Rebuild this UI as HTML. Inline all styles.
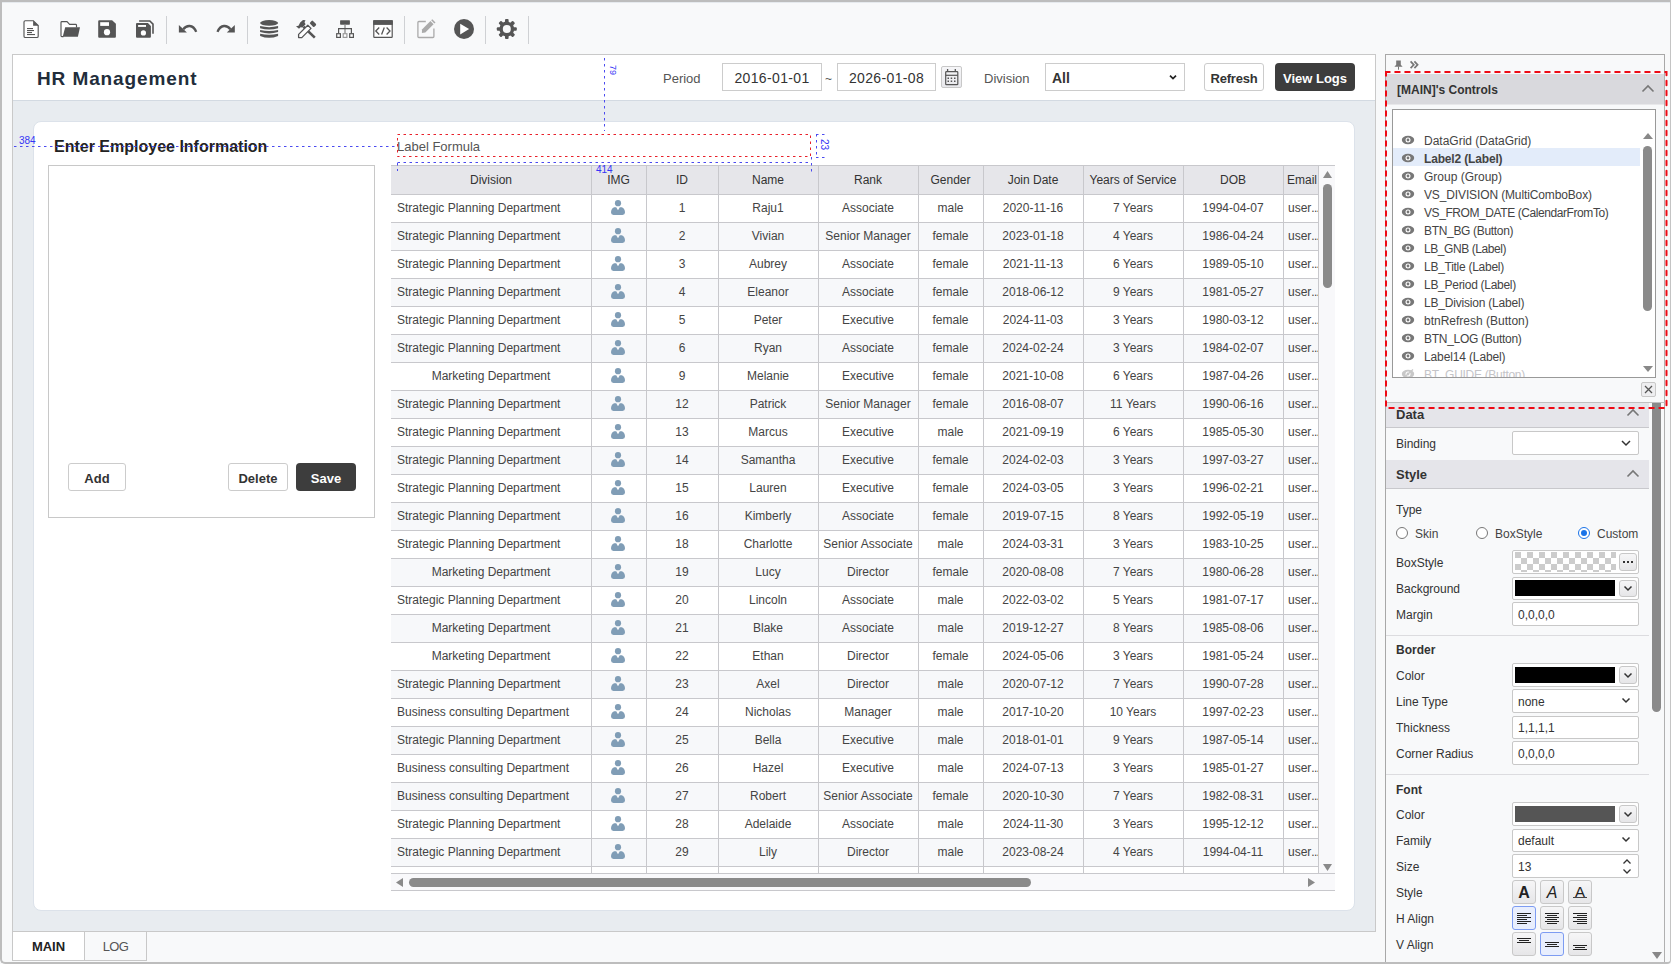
<!DOCTYPE html>
<html><head><meta charset="utf-8">
<style>
*{box-sizing:border-box}
svg{display:block}
html,body{margin:0;padding:0}
body{width:1671px;height:964px;overflow:hidden;position:relative;background:#f8f9fa;font-family:"Liberation Sans",sans-serif;color:#333}
.a{position:absolute}
.gh{position:absolute;height:28px;line-height:28px;font-size:12px;color:#333;text-align:center;white-space:nowrap;overflow:hidden}
.gc{position:absolute;height:27px;line-height:27px;font-size:12px;color:#444;text-align:center;white-space:nowrap;overflow:hidden}
.ct{position:absolute;left:1424px;height:18px;line-height:18px;font-size:12px;white-space:nowrap}
.lbl{position:absolute;left:1396px;font-size:12px;color:#333;line-height:14px;white-space:nowrap}
.fld{position:absolute;left:1512px;width:127px;height:23px;border:1px solid #c8c8c8;background:#fff;border-radius:2px}
.btn{position:absolute;border:1px solid #ccc;border-radius:3px;background:#fff;font-weight:bold;font-size:13px;color:#333;text-align:center}
.sq{position:absolute;width:24px;height:24px;border:1px solid #c8c8c8;border-radius:3px;background:linear-gradient(#f6f6f7,#e6e6e8)}
</style></head><body>
<!-- frame -->
<div class="a" style="left:0;top:0;width:1671px;height:2px;background:#bdbdbd"></div>
<div class="a" style="left:0;top:2px;width:1671px;height:1px;background:#e6eaee"></div>



<div class="a" style="left:1px;top:58px;width:1px;height:46px;background:#333"></div>

<!-- toolbar -->
<svg class="a" style="left:0;top:0" width="540" height="54">
 <path d="M24 22 q0 -1.3 1.3 -1.3 h8 l4.9 4.9 v10.6 q0 1.3 -1.3 1.3 h-11.6 q-1.3 0 -1.3 -1.3z" fill="#fff" stroke="#555" stroke-width="1.15"/>
 <path d="M33.1 20.4 l5.4 5.4 h-5.4z" fill="#555"/>
 <g fill="#555"><rect x="27" y="28" width="6" height="1.1"/><rect x="27" y="30" width="7" height="1.1"/><rect x="27" y="32" width="5" height="1.1"/><rect x="27" y="34" width="8" height="1.1"/></g>
 <!-- folder -->
 <path d="M63.5 36.6 h-1.6 q-0.9 0 -0.9 -0.9 v-13.1 q0 -0.9 0.9 -0.9 h5.1 l2.6 2.7 h6 q0.9 0 0.9 0.9 v2.2" fill="#fff" stroke="#555" stroke-width="1.15"/>
 <path d="M65.2 27.3 h14.8 l-2.1 9.4 h-15.2z" fill="#555"/>
 <!-- save -->
 <path d="M99.2 20.2 h12.9 l3.8 3.6 v13 q0 1 -1 1 h-15.7 q-1 0 -1 -1 v-15.6 q0 -1 1 -1z" fill="#555"/>
 <rect x="100.2" y="22.2" width="8.8" height="3.7" fill="#fff"/>
 <circle cx="107" cy="32.2" r="3.1" fill="#fff"/>
 <!-- save all -->
 <path d="M139.1 20.2 h11.1 l3.6 3.6 v9.9 h-1.6 v-9.2 l-2.7 -2.7 h-10.4z" fill="#555"/>
 <path d="M137 23.1 h10.9 l3 3 v10.7 q0 1 -1 1 h-12.9 q-1 0 -1 -1 v-12.7 q0 -1 1 -1z" fill="#555"/>
 <rect x="138.1" y="25" width="7.9" height="1.9" fill="#fff"/>
 <circle cx="143.4" cy="32.9" r="2.6" fill="#fff"/>
 <line x1="166.5" y1="16" x2="166.5" y2="44" stroke="#cfd1d4" stroke-width="1"/>
 <!-- undo -->
 <path d="M178.9 24.9 v7.7 h8z" fill="#555"/>
 <path d="M183.3 29.2 C186.5 25 193 24 196.2 31.9" fill="none" stroke="#555" stroke-width="2.3"/>
 <!-- redo -->
 <path d="M234.8 24.9 v7.7 h-8z" fill="#555"/>
 <path d="M230.4 29.2 C227.2 25 220.7 24 217.5 31.9" fill="none" stroke="#555" stroke-width="2.3"/>
 <line x1="247.5" y1="16" x2="247.5" y2="44" stroke="#cfd1d4" stroke-width="1"/>
 <!-- database -->
 <ellipse cx="269.1" cy="22.9" rx="9" ry="2.8" fill="#555"/>
 <path d="M260.1 26.1 Q269.1 28.3 278.1 26.1 V28.3 Q269.1 30.9 260.1 28.3Z" fill="#555"/>
 <path d="M260.1 29.9 Q269.1 32.1 278.1 29.9 V32.1 Q269.1 34.7 260.1 32.1Z" fill="#555"/>
 <path d="M260.1 33.7 Q269.1 35.9 278.1 33.7 V35.9 Q269.1 39.7 260.1 35.9Z" fill="#555"/>
 <!-- tools -->
 <path d="M303.5 26.8 L314.8 37.6" stroke="#555" stroke-width="2.6"/>
 <path d="M296 26.2 L298.5 25.8 L300.2 22.6 L303 20.1 L305.5 20.3 L304.5 22.3 L305.6 24.2 L302.5 27.4 L300.6 27.2 L299 28.8z" fill="#555"/>
 <path d="M298.6 37.5 V34.4 L307.8 25.2 L311 28.4 L301.8 37.6Z" fill="#fff" stroke="#555" stroke-width="1.3" stroke-linejoin="round"/>
 <rect x="311" y="20.8" width="4" height="6" rx="1" transform="rotate(-45 313 23.8)" fill="#555"/>
 <!-- hierarchy -->
 <rect x="340.1" y="20.2" width="9.8" height="4.5" rx="0.6" fill="#555"/>
 <path d="M345 24.7 V33.2" stroke="#a0a0a0" stroke-width="1.6"/>
 <path d="M338.6 33.2 V28.6 H351.4 V33.2" fill="none" stroke="#555" stroke-width="1.2"/>
 <rect x="336.7" y="33.7" width="3.7" height="3.7" fill="#fff" stroke="#555" stroke-width="1.2"/>
 <rect x="343.2" y="33.7" width="3.7" height="3.7" fill="#fff" stroke="#999" stroke-width="1.2"/>
 <rect x="349.7" y="33.7" width="3.7" height="3.7" fill="#fff" stroke="#555" stroke-width="1.2"/>
 <!-- code window -->
 <rect x="373.8" y="20.8" width="18.4" height="16.5" rx="0.6" fill="#fff" stroke="#555" stroke-width="1.2"/>
 <rect x="373.2" y="20.2" width="19.6" height="4.7" fill="#555"/>
 <path d="M379.2 27.5 L375.8 31 L379.2 34.5 M386.6 27.5 L390 31 L386.6 34.5 M384.3 27.4 L381.6 34.6" fill="none" stroke="#555" stroke-width="1.3"/>
 <line x1="404.5" y1="16" x2="404.5" y2="44" stroke="#cfd1d4" stroke-width="1"/>
 <!-- edit (disabled) -->
 <path d="M425.8 21.5 h-6.9 q-1 0 -1 1 v14 q0 1 1 1 h14 q1 0 1 -1 v-7.9" fill="none" stroke="#aaa" stroke-width="1.3"/>
 <path d="M421.9 32.9 L422 29.4 L430.4 21 L433.6 24.2 L425.3 32.6z" fill="#aaa"/>
 <path d="M431.2 20.3 L432.3 19.2 L435.5 22.4 L434.4 23.5z" fill="#aaa"/>
 <!-- play -->
 <circle cx="464" cy="29" r="10" fill="#555"/>
 <path d="M460.2 23.8 v10.6 l8.9 -5.3z" fill="#fff"/>
 <line x1="485.5" y1="16" x2="485.5" y2="44" stroke="#cfd1d4" stroke-width="1"/>
 <!-- gear -->
 <g transform="translate(506.8 29)" fill="#555">
  <circle r="7.4"/>
  <rect x="-1.8" y="-10" width="3.6" height="20" rx="1"/>
  <rect x="-1.8" y="-10" width="3.6" height="20" rx="1" transform="rotate(45)"/>
  <rect x="-1.8" y="-10" width="3.6" height="20" rx="1" transform="rotate(90)"/>
  <rect x="-1.8" y="-10" width="3.6" height="20" rx="1" transform="rotate(135)"/>
  <circle r="4" fill="#f8f9fa"/>
 </g>
 <line x1="528.5" y1="16" x2="528.5" y2="44" stroke="#cfd1d4" stroke-width="1"/>
</svg>

<!-- design area -->
<div class="a" style="left:12px;top:54px;width:1364px;height:878px;border:1px solid #c9c9c9;background:#e8ecf0"></div>
<div class="a" style="left:13px;top:55px;width:1362px;height:46px;background:#fff;border-bottom:1px solid #d3dae2"></div>
<div class="a" style="left:37px;top:67px;font-size:19px;font-weight:bold;color:#222d3b;letter-spacing:0.9px;line-height:24px">HR Management</div>
<div class="a" style="left:663px;top:71px;font-size:13px;color:#555;line-height:16px">Period</div>
<div class="a" style="left:722px;top:63px;width:100px;height:28px;border:1px solid #ccc;background:#fff;font-size:14px;color:#333;text-align:center;line-height:28px;letter-spacing:0.35px">2016-01-01</div>
<div class="a" style="left:825px;top:71px;font-size:12px;color:#555;line-height:16px">~</div>
<div class="a" style="left:837px;top:63px;width:99px;height:28px;border:1px solid #ccc;background:#fff;font-size:14px;color:#333;text-align:center;line-height:28px;letter-spacing:0.35px">2026-01-08</div>
<div class="a" style="left:941px;top:66px;width:21px;height:22px;border:1px solid #c8c8c8;border-radius:2px;background:linear-gradient(#f6f6f8,#e8e8ec)"></div>
<svg class="a" style="left:936px;top:60px" width="34" height="34">
 <rect x="9.7" y="11.7" width="12.1" height="13" rx="0.8" fill="none" stroke="#555" stroke-width="1.2"/>
 <path d="M9.7 15.3 H21.8" stroke="#555" stroke-width="1.2"/>
 <path d="M11.6 9 V12 M19.3 9 V12" stroke="#555" stroke-width="1.3"/>
 <g fill="#555"><rect x="11.5" y="17.5" width="1.5" height="1.5"/><rect x="14.7" y="17.5" width="1.5" height="1.5"/><rect x="18" y="17.5" width="1.5" height="1.5"/><rect x="11.5" y="20.5" width="1.5" height="1.5"/><rect x="14.7" y="20.5" width="1.5" height="1.5"/><rect x="18" y="20.5" width="1.5" height="1.5"/></g>
</svg>
<div class="a" style="left:984px;top:71px;font-size:13px;color:#555;line-height:16px">Division</div>
<div class="a" style="left:1045px;top:63px;width:140px;height:28px;border:1px solid #ccc;background:#fff"></div>
<div class="a" style="left:1052px;top:70px;font-size:14px;font-weight:bold;color:#333;line-height:16px">All</div>
<svg class="a" style="left:1168px;top:74px" width="10" height="7"><path d="M2 1.6 l3 3 l3 -3" fill="none" stroke="#222" stroke-width="1.7"/></svg>
<div class="btn" style="left:1204px;top:63px;width:60px;height:28px;line-height:29px;letter-spacing:-0.2px">Refresh</div>
<div class="btn" style="left:1275px;top:63px;width:80px;height:28px;line-height:31px;border:none;background:#3d3d3d;color:#fff;border-radius:4px">View Logs</div>

<!-- card -->
<div class="a" style="left:33px;top:121px;width:1322px;height:790px;background:#fff;border:1px solid #dce2ea;border-radius:8px"></div>
<div class="a" style="left:54px;top:138px;font-size:16px;font-weight:bold;color:#222;line-height:18px">Enter Employee Information</div>
<div class="a" style="left:48px;top:165px;width:327px;height:353px;border:1px solid #c8c8c8;background:#fff"></div>
<div class="btn" style="left:68px;top:463px;width:58px;height:28px;line-height:29px">Add</div>
<div class="btn" style="left:228px;top:463px;width:60px;height:28px;line-height:29px">Delete</div>
<div class="btn" style="left:296px;top:463px;width:60px;height:28px;line-height:31px;border:none;background:#3d3d3d;color:#fff;border-radius:4px">Save</div>

<!-- label formula -->
<div class="a" style="left:397px;top:139px;font-size:13px;color:#555;line-height:16px">Label Formula</div>

<div style="position:absolute;left:391px;top:165px;width:944px;height:1px;background:#c8c8cc"></div>
<div style="position:absolute;left:391px;top:166px;width:927px;height:28px;background:#e6e6ea"></div>
<div class="gh" style="left:391px;top:166px;width:200px">Division</div>
<div class="gh" style="left:591px;top:166px;width:55px">IMG</div>
<div class="gh" style="left:646px;top:166px;width:72px">ID</div>
<div class="gh" style="left:718px;top:166px;width:100px">Name</div>
<div class="gh" style="left:818px;top:166px;width:100px">Rank</div>
<div class="gh" style="left:918px;top:166px;width:65px">Gender</div>
<div class="gh" style="left:983px;top:166px;width:100px">Join Date</div>
<div class="gh" style="left:1083px;top:166px;width:100px">Years of Service</div>
<div class="gh" style="left:1183px;top:166px;width:100px">DOB</div>
<div class="gh" style="left:1284px;top:166px;width:34px;text-align:left;padding-left:3px">Email</div>
<div style="position:absolute;left:391px;top:195px;width:927px;height:27px;background:#ffffff"></div>
<div class="gc" style="left:397px;top:195px;width:194px;text-align:left">Strategic Planning Department</div>
<div style="position:absolute;left:611px;top:200px;width:14px;height:15px"><svg width="14" height="15" viewBox="0 0 14 15"><circle cx="7" cy="3.2" r="3.1" fill="#809db6"/><path d="M3.2 7.2 L5.2 7.2 L7 10.2 L8.8 7.2 L10.8 7.2 Q14 8.6 14 12.6 Q14 15 11.5 15 L2.5 15 Q0 15 0 12.6 Q0 8.6 3.2 7.2Z" fill="#809db6"/></svg></div>
<div class="gc" style="left:646px;top:195px;width:72px">1</div>
<div class="gc" style="left:718px;top:195px;width:100px">Raju1</div>
<div class="gc" style="left:818px;top:195px;width:100px">Associate</div>
<div class="gc" style="left:918px;top:195px;width:65px">male</div>
<div class="gc" style="left:983px;top:195px;width:100px">2020-11-16</div>
<div class="gc" style="left:1083px;top:195px;width:100px">7 Years</div>
<div class="gc" style="left:1183px;top:195px;width:100px">1994-04-07</div>
<div class="gc" style="left:1288px;top:195px;width:30px;text-align:left">user<span style="letter-spacing:-0.8px">...</span></div>
<div style="position:absolute;left:391px;top:223px;width:927px;height:27px;background:#f7f8fa"></div>
<div class="gc" style="left:397px;top:223px;width:194px;text-align:left">Strategic Planning Department</div>
<div style="position:absolute;left:611px;top:228px;width:14px;height:15px"><svg width="14" height="15" viewBox="0 0 14 15"><circle cx="7" cy="3.2" r="3.1" fill="#809db6"/><path d="M3.2 7.2 L5.2 7.2 L7 10.2 L8.8 7.2 L10.8 7.2 Q14 8.6 14 12.6 Q14 15 11.5 15 L2.5 15 Q0 15 0 12.6 Q0 8.6 3.2 7.2Z" fill="#809db6"/></svg></div>
<div class="gc" style="left:646px;top:223px;width:72px">2</div>
<div class="gc" style="left:718px;top:223px;width:100px">Vivian</div>
<div class="gc" style="left:818px;top:223px;width:100px">Senior Manager</div>
<div class="gc" style="left:918px;top:223px;width:65px">female</div>
<div class="gc" style="left:983px;top:223px;width:100px">2023-01-18</div>
<div class="gc" style="left:1083px;top:223px;width:100px">4 Years</div>
<div class="gc" style="left:1183px;top:223px;width:100px">1986-04-24</div>
<div class="gc" style="left:1288px;top:223px;width:30px;text-align:left">user<span style="letter-spacing:-0.8px">...</span></div>
<div style="position:absolute;left:391px;top:251px;width:927px;height:27px;background:#ffffff"></div>
<div class="gc" style="left:397px;top:251px;width:194px;text-align:left">Strategic Planning Department</div>
<div style="position:absolute;left:611px;top:256px;width:14px;height:15px"><svg width="14" height="15" viewBox="0 0 14 15"><circle cx="7" cy="3.2" r="3.1" fill="#809db6"/><path d="M3.2 7.2 L5.2 7.2 L7 10.2 L8.8 7.2 L10.8 7.2 Q14 8.6 14 12.6 Q14 15 11.5 15 L2.5 15 Q0 15 0 12.6 Q0 8.6 3.2 7.2Z" fill="#809db6"/></svg></div>
<div class="gc" style="left:646px;top:251px;width:72px">3</div>
<div class="gc" style="left:718px;top:251px;width:100px">Aubrey</div>
<div class="gc" style="left:818px;top:251px;width:100px">Associate</div>
<div class="gc" style="left:918px;top:251px;width:65px">female</div>
<div class="gc" style="left:983px;top:251px;width:100px">2021-11-13</div>
<div class="gc" style="left:1083px;top:251px;width:100px">6 Years</div>
<div class="gc" style="left:1183px;top:251px;width:100px">1989-05-10</div>
<div class="gc" style="left:1288px;top:251px;width:30px;text-align:left">user<span style="letter-spacing:-0.8px">...</span></div>
<div style="position:absolute;left:391px;top:279px;width:927px;height:27px;background:#f7f8fa"></div>
<div class="gc" style="left:397px;top:279px;width:194px;text-align:left">Strategic Planning Department</div>
<div style="position:absolute;left:611px;top:284px;width:14px;height:15px"><svg width="14" height="15" viewBox="0 0 14 15"><circle cx="7" cy="3.2" r="3.1" fill="#809db6"/><path d="M3.2 7.2 L5.2 7.2 L7 10.2 L8.8 7.2 L10.8 7.2 Q14 8.6 14 12.6 Q14 15 11.5 15 L2.5 15 Q0 15 0 12.6 Q0 8.6 3.2 7.2Z" fill="#809db6"/></svg></div>
<div class="gc" style="left:646px;top:279px;width:72px">4</div>
<div class="gc" style="left:718px;top:279px;width:100px">Eleanor</div>
<div class="gc" style="left:818px;top:279px;width:100px">Associate</div>
<div class="gc" style="left:918px;top:279px;width:65px">female</div>
<div class="gc" style="left:983px;top:279px;width:100px">2018-06-12</div>
<div class="gc" style="left:1083px;top:279px;width:100px">9 Years</div>
<div class="gc" style="left:1183px;top:279px;width:100px">1981-05-27</div>
<div class="gc" style="left:1288px;top:279px;width:30px;text-align:left">user<span style="letter-spacing:-0.8px">...</span></div>
<div style="position:absolute;left:391px;top:307px;width:927px;height:27px;background:#ffffff"></div>
<div class="gc" style="left:397px;top:307px;width:194px;text-align:left">Strategic Planning Department</div>
<div style="position:absolute;left:611px;top:312px;width:14px;height:15px"><svg width="14" height="15" viewBox="0 0 14 15"><circle cx="7" cy="3.2" r="3.1" fill="#809db6"/><path d="M3.2 7.2 L5.2 7.2 L7 10.2 L8.8 7.2 L10.8 7.2 Q14 8.6 14 12.6 Q14 15 11.5 15 L2.5 15 Q0 15 0 12.6 Q0 8.6 3.2 7.2Z" fill="#809db6"/></svg></div>
<div class="gc" style="left:646px;top:307px;width:72px">5</div>
<div class="gc" style="left:718px;top:307px;width:100px">Peter</div>
<div class="gc" style="left:818px;top:307px;width:100px">Executive</div>
<div class="gc" style="left:918px;top:307px;width:65px">female</div>
<div class="gc" style="left:983px;top:307px;width:100px">2024-11-03</div>
<div class="gc" style="left:1083px;top:307px;width:100px">3 Years</div>
<div class="gc" style="left:1183px;top:307px;width:100px">1980-03-12</div>
<div class="gc" style="left:1288px;top:307px;width:30px;text-align:left">user<span style="letter-spacing:-0.8px">...</span></div>
<div style="position:absolute;left:391px;top:335px;width:927px;height:27px;background:#f7f8fa"></div>
<div class="gc" style="left:397px;top:335px;width:194px;text-align:left">Strategic Planning Department</div>
<div style="position:absolute;left:611px;top:340px;width:14px;height:15px"><svg width="14" height="15" viewBox="0 0 14 15"><circle cx="7" cy="3.2" r="3.1" fill="#809db6"/><path d="M3.2 7.2 L5.2 7.2 L7 10.2 L8.8 7.2 L10.8 7.2 Q14 8.6 14 12.6 Q14 15 11.5 15 L2.5 15 Q0 15 0 12.6 Q0 8.6 3.2 7.2Z" fill="#809db6"/></svg></div>
<div class="gc" style="left:646px;top:335px;width:72px">6</div>
<div class="gc" style="left:718px;top:335px;width:100px">Ryan</div>
<div class="gc" style="left:818px;top:335px;width:100px">Associate</div>
<div class="gc" style="left:918px;top:335px;width:65px">female</div>
<div class="gc" style="left:983px;top:335px;width:100px">2024-02-24</div>
<div class="gc" style="left:1083px;top:335px;width:100px">3 Years</div>
<div class="gc" style="left:1183px;top:335px;width:100px">1984-02-07</div>
<div class="gc" style="left:1288px;top:335px;width:30px;text-align:left">user<span style="letter-spacing:-0.8px">...</span></div>
<div style="position:absolute;left:391px;top:363px;width:927px;height:27px;background:#ffffff"></div>
<div class="gc" style="left:391px;top:363px;width:200px">Marketing Department</div>
<div style="position:absolute;left:611px;top:368px;width:14px;height:15px"><svg width="14" height="15" viewBox="0 0 14 15"><circle cx="7" cy="3.2" r="3.1" fill="#809db6"/><path d="M3.2 7.2 L5.2 7.2 L7 10.2 L8.8 7.2 L10.8 7.2 Q14 8.6 14 12.6 Q14 15 11.5 15 L2.5 15 Q0 15 0 12.6 Q0 8.6 3.2 7.2Z" fill="#809db6"/></svg></div>
<div class="gc" style="left:646px;top:363px;width:72px">9</div>
<div class="gc" style="left:718px;top:363px;width:100px">Melanie</div>
<div class="gc" style="left:818px;top:363px;width:100px">Executive</div>
<div class="gc" style="left:918px;top:363px;width:65px">female</div>
<div class="gc" style="left:983px;top:363px;width:100px">2021-10-08</div>
<div class="gc" style="left:1083px;top:363px;width:100px">6 Years</div>
<div class="gc" style="left:1183px;top:363px;width:100px">1987-04-26</div>
<div class="gc" style="left:1288px;top:363px;width:30px;text-align:left">user<span style="letter-spacing:-0.8px">...</span></div>
<div style="position:absolute;left:391px;top:391px;width:927px;height:27px;background:#f7f8fa"></div>
<div class="gc" style="left:397px;top:391px;width:194px;text-align:left">Strategic Planning Department</div>
<div style="position:absolute;left:611px;top:396px;width:14px;height:15px"><svg width="14" height="15" viewBox="0 0 14 15"><circle cx="7" cy="3.2" r="3.1" fill="#809db6"/><path d="M3.2 7.2 L5.2 7.2 L7 10.2 L8.8 7.2 L10.8 7.2 Q14 8.6 14 12.6 Q14 15 11.5 15 L2.5 15 Q0 15 0 12.6 Q0 8.6 3.2 7.2Z" fill="#809db6"/></svg></div>
<div class="gc" style="left:646px;top:391px;width:72px">12</div>
<div class="gc" style="left:718px;top:391px;width:100px">Patrick</div>
<div class="gc" style="left:818px;top:391px;width:100px">Senior Manager</div>
<div class="gc" style="left:918px;top:391px;width:65px">female</div>
<div class="gc" style="left:983px;top:391px;width:100px">2016-08-07</div>
<div class="gc" style="left:1083px;top:391px;width:100px">11 Years</div>
<div class="gc" style="left:1183px;top:391px;width:100px">1990-06-16</div>
<div class="gc" style="left:1288px;top:391px;width:30px;text-align:left">user<span style="letter-spacing:-0.8px">...</span></div>
<div style="position:absolute;left:391px;top:419px;width:927px;height:27px;background:#ffffff"></div>
<div class="gc" style="left:397px;top:419px;width:194px;text-align:left">Strategic Planning Department</div>
<div style="position:absolute;left:611px;top:424px;width:14px;height:15px"><svg width="14" height="15" viewBox="0 0 14 15"><circle cx="7" cy="3.2" r="3.1" fill="#809db6"/><path d="M3.2 7.2 L5.2 7.2 L7 10.2 L8.8 7.2 L10.8 7.2 Q14 8.6 14 12.6 Q14 15 11.5 15 L2.5 15 Q0 15 0 12.6 Q0 8.6 3.2 7.2Z" fill="#809db6"/></svg></div>
<div class="gc" style="left:646px;top:419px;width:72px">13</div>
<div class="gc" style="left:718px;top:419px;width:100px">Marcus</div>
<div class="gc" style="left:818px;top:419px;width:100px">Executive</div>
<div class="gc" style="left:918px;top:419px;width:65px">male</div>
<div class="gc" style="left:983px;top:419px;width:100px">2021-09-19</div>
<div class="gc" style="left:1083px;top:419px;width:100px">6 Years</div>
<div class="gc" style="left:1183px;top:419px;width:100px">1985-05-30</div>
<div class="gc" style="left:1288px;top:419px;width:30px;text-align:left">user<span style="letter-spacing:-0.8px">...</span></div>
<div style="position:absolute;left:391px;top:447px;width:927px;height:27px;background:#f7f8fa"></div>
<div class="gc" style="left:397px;top:447px;width:194px;text-align:left">Strategic Planning Department</div>
<div style="position:absolute;left:611px;top:452px;width:14px;height:15px"><svg width="14" height="15" viewBox="0 0 14 15"><circle cx="7" cy="3.2" r="3.1" fill="#809db6"/><path d="M3.2 7.2 L5.2 7.2 L7 10.2 L8.8 7.2 L10.8 7.2 Q14 8.6 14 12.6 Q14 15 11.5 15 L2.5 15 Q0 15 0 12.6 Q0 8.6 3.2 7.2Z" fill="#809db6"/></svg></div>
<div class="gc" style="left:646px;top:447px;width:72px">14</div>
<div class="gc" style="left:718px;top:447px;width:100px">Samantha</div>
<div class="gc" style="left:818px;top:447px;width:100px">Executive</div>
<div class="gc" style="left:918px;top:447px;width:65px">female</div>
<div class="gc" style="left:983px;top:447px;width:100px">2024-02-03</div>
<div class="gc" style="left:1083px;top:447px;width:100px">3 Years</div>
<div class="gc" style="left:1183px;top:447px;width:100px">1997-03-27</div>
<div class="gc" style="left:1288px;top:447px;width:30px;text-align:left">user<span style="letter-spacing:-0.8px">...</span></div>
<div style="position:absolute;left:391px;top:475px;width:927px;height:27px;background:#ffffff"></div>
<div class="gc" style="left:397px;top:475px;width:194px;text-align:left">Strategic Planning Department</div>
<div style="position:absolute;left:611px;top:480px;width:14px;height:15px"><svg width="14" height="15" viewBox="0 0 14 15"><circle cx="7" cy="3.2" r="3.1" fill="#809db6"/><path d="M3.2 7.2 L5.2 7.2 L7 10.2 L8.8 7.2 L10.8 7.2 Q14 8.6 14 12.6 Q14 15 11.5 15 L2.5 15 Q0 15 0 12.6 Q0 8.6 3.2 7.2Z" fill="#809db6"/></svg></div>
<div class="gc" style="left:646px;top:475px;width:72px">15</div>
<div class="gc" style="left:718px;top:475px;width:100px">Lauren</div>
<div class="gc" style="left:818px;top:475px;width:100px">Executive</div>
<div class="gc" style="left:918px;top:475px;width:65px">female</div>
<div class="gc" style="left:983px;top:475px;width:100px">2024-03-05</div>
<div class="gc" style="left:1083px;top:475px;width:100px">3 Years</div>
<div class="gc" style="left:1183px;top:475px;width:100px">1996-02-21</div>
<div class="gc" style="left:1288px;top:475px;width:30px;text-align:left">user<span style="letter-spacing:-0.8px">...</span></div>
<div style="position:absolute;left:391px;top:503px;width:927px;height:27px;background:#f7f8fa"></div>
<div class="gc" style="left:397px;top:503px;width:194px;text-align:left">Strategic Planning Department</div>
<div style="position:absolute;left:611px;top:508px;width:14px;height:15px"><svg width="14" height="15" viewBox="0 0 14 15"><circle cx="7" cy="3.2" r="3.1" fill="#809db6"/><path d="M3.2 7.2 L5.2 7.2 L7 10.2 L8.8 7.2 L10.8 7.2 Q14 8.6 14 12.6 Q14 15 11.5 15 L2.5 15 Q0 15 0 12.6 Q0 8.6 3.2 7.2Z" fill="#809db6"/></svg></div>
<div class="gc" style="left:646px;top:503px;width:72px">16</div>
<div class="gc" style="left:718px;top:503px;width:100px">Kimberly</div>
<div class="gc" style="left:818px;top:503px;width:100px">Associate</div>
<div class="gc" style="left:918px;top:503px;width:65px">female</div>
<div class="gc" style="left:983px;top:503px;width:100px">2019-07-15</div>
<div class="gc" style="left:1083px;top:503px;width:100px">8 Years</div>
<div class="gc" style="left:1183px;top:503px;width:100px">1992-05-19</div>
<div class="gc" style="left:1288px;top:503px;width:30px;text-align:left">user<span style="letter-spacing:-0.8px">...</span></div>
<div style="position:absolute;left:391px;top:531px;width:927px;height:27px;background:#ffffff"></div>
<div class="gc" style="left:397px;top:531px;width:194px;text-align:left">Strategic Planning Department</div>
<div style="position:absolute;left:611px;top:536px;width:14px;height:15px"><svg width="14" height="15" viewBox="0 0 14 15"><circle cx="7" cy="3.2" r="3.1" fill="#809db6"/><path d="M3.2 7.2 L5.2 7.2 L7 10.2 L8.8 7.2 L10.8 7.2 Q14 8.6 14 12.6 Q14 15 11.5 15 L2.5 15 Q0 15 0 12.6 Q0 8.6 3.2 7.2Z" fill="#809db6"/></svg></div>
<div class="gc" style="left:646px;top:531px;width:72px">18</div>
<div class="gc" style="left:718px;top:531px;width:100px">Charlotte</div>
<div class="gc" style="left:818px;top:531px;width:100px">Senior Associate</div>
<div class="gc" style="left:918px;top:531px;width:65px">male</div>
<div class="gc" style="left:983px;top:531px;width:100px">2024-03-31</div>
<div class="gc" style="left:1083px;top:531px;width:100px">3 Years</div>
<div class="gc" style="left:1183px;top:531px;width:100px">1983-10-25</div>
<div class="gc" style="left:1288px;top:531px;width:30px;text-align:left">user<span style="letter-spacing:-0.8px">...</span></div>
<div style="position:absolute;left:391px;top:559px;width:927px;height:27px;background:#f7f8fa"></div>
<div class="gc" style="left:391px;top:559px;width:200px">Marketing Department</div>
<div style="position:absolute;left:611px;top:564px;width:14px;height:15px"><svg width="14" height="15" viewBox="0 0 14 15"><circle cx="7" cy="3.2" r="3.1" fill="#809db6"/><path d="M3.2 7.2 L5.2 7.2 L7 10.2 L8.8 7.2 L10.8 7.2 Q14 8.6 14 12.6 Q14 15 11.5 15 L2.5 15 Q0 15 0 12.6 Q0 8.6 3.2 7.2Z" fill="#809db6"/></svg></div>
<div class="gc" style="left:646px;top:559px;width:72px">19</div>
<div class="gc" style="left:718px;top:559px;width:100px">Lucy</div>
<div class="gc" style="left:818px;top:559px;width:100px">Director</div>
<div class="gc" style="left:918px;top:559px;width:65px">female</div>
<div class="gc" style="left:983px;top:559px;width:100px">2020-08-08</div>
<div class="gc" style="left:1083px;top:559px;width:100px">7 Years</div>
<div class="gc" style="left:1183px;top:559px;width:100px">1980-06-28</div>
<div class="gc" style="left:1288px;top:559px;width:30px;text-align:left">user<span style="letter-spacing:-0.8px">...</span></div>
<div style="position:absolute;left:391px;top:587px;width:927px;height:27px;background:#ffffff"></div>
<div class="gc" style="left:397px;top:587px;width:194px;text-align:left">Strategic Planning Department</div>
<div style="position:absolute;left:611px;top:592px;width:14px;height:15px"><svg width="14" height="15" viewBox="0 0 14 15"><circle cx="7" cy="3.2" r="3.1" fill="#809db6"/><path d="M3.2 7.2 L5.2 7.2 L7 10.2 L8.8 7.2 L10.8 7.2 Q14 8.6 14 12.6 Q14 15 11.5 15 L2.5 15 Q0 15 0 12.6 Q0 8.6 3.2 7.2Z" fill="#809db6"/></svg></div>
<div class="gc" style="left:646px;top:587px;width:72px">20</div>
<div class="gc" style="left:718px;top:587px;width:100px">Lincoln</div>
<div class="gc" style="left:818px;top:587px;width:100px">Associate</div>
<div class="gc" style="left:918px;top:587px;width:65px">male</div>
<div class="gc" style="left:983px;top:587px;width:100px">2022-03-02</div>
<div class="gc" style="left:1083px;top:587px;width:100px">5 Years</div>
<div class="gc" style="left:1183px;top:587px;width:100px">1981-07-17</div>
<div class="gc" style="left:1288px;top:587px;width:30px;text-align:left">user<span style="letter-spacing:-0.8px">...</span></div>
<div style="position:absolute;left:391px;top:615px;width:927px;height:27px;background:#f7f8fa"></div>
<div class="gc" style="left:391px;top:615px;width:200px">Marketing Department</div>
<div style="position:absolute;left:611px;top:620px;width:14px;height:15px"><svg width="14" height="15" viewBox="0 0 14 15"><circle cx="7" cy="3.2" r="3.1" fill="#809db6"/><path d="M3.2 7.2 L5.2 7.2 L7 10.2 L8.8 7.2 L10.8 7.2 Q14 8.6 14 12.6 Q14 15 11.5 15 L2.5 15 Q0 15 0 12.6 Q0 8.6 3.2 7.2Z" fill="#809db6"/></svg></div>
<div class="gc" style="left:646px;top:615px;width:72px">21</div>
<div class="gc" style="left:718px;top:615px;width:100px">Blake</div>
<div class="gc" style="left:818px;top:615px;width:100px">Associate</div>
<div class="gc" style="left:918px;top:615px;width:65px">male</div>
<div class="gc" style="left:983px;top:615px;width:100px">2019-12-27</div>
<div class="gc" style="left:1083px;top:615px;width:100px">8 Years</div>
<div class="gc" style="left:1183px;top:615px;width:100px">1985-08-06</div>
<div class="gc" style="left:1288px;top:615px;width:30px;text-align:left">user<span style="letter-spacing:-0.8px">...</span></div>
<div style="position:absolute;left:391px;top:643px;width:927px;height:27px;background:#ffffff"></div>
<div class="gc" style="left:391px;top:643px;width:200px">Marketing Department</div>
<div style="position:absolute;left:611px;top:648px;width:14px;height:15px"><svg width="14" height="15" viewBox="0 0 14 15"><circle cx="7" cy="3.2" r="3.1" fill="#809db6"/><path d="M3.2 7.2 L5.2 7.2 L7 10.2 L8.8 7.2 L10.8 7.2 Q14 8.6 14 12.6 Q14 15 11.5 15 L2.5 15 Q0 15 0 12.6 Q0 8.6 3.2 7.2Z" fill="#809db6"/></svg></div>
<div class="gc" style="left:646px;top:643px;width:72px">22</div>
<div class="gc" style="left:718px;top:643px;width:100px">Ethan</div>
<div class="gc" style="left:818px;top:643px;width:100px">Director</div>
<div class="gc" style="left:918px;top:643px;width:65px">female</div>
<div class="gc" style="left:983px;top:643px;width:100px">2024-05-06</div>
<div class="gc" style="left:1083px;top:643px;width:100px">3 Years</div>
<div class="gc" style="left:1183px;top:643px;width:100px">1981-05-24</div>
<div class="gc" style="left:1288px;top:643px;width:30px;text-align:left">user<span style="letter-spacing:-0.8px">...</span></div>
<div style="position:absolute;left:391px;top:671px;width:927px;height:27px;background:#f7f8fa"></div>
<div class="gc" style="left:397px;top:671px;width:194px;text-align:left">Strategic Planning Department</div>
<div style="position:absolute;left:611px;top:676px;width:14px;height:15px"><svg width="14" height="15" viewBox="0 0 14 15"><circle cx="7" cy="3.2" r="3.1" fill="#809db6"/><path d="M3.2 7.2 L5.2 7.2 L7 10.2 L8.8 7.2 L10.8 7.2 Q14 8.6 14 12.6 Q14 15 11.5 15 L2.5 15 Q0 15 0 12.6 Q0 8.6 3.2 7.2Z" fill="#809db6"/></svg></div>
<div class="gc" style="left:646px;top:671px;width:72px">23</div>
<div class="gc" style="left:718px;top:671px;width:100px">Axel</div>
<div class="gc" style="left:818px;top:671px;width:100px">Director</div>
<div class="gc" style="left:918px;top:671px;width:65px">male</div>
<div class="gc" style="left:983px;top:671px;width:100px">2020-07-12</div>
<div class="gc" style="left:1083px;top:671px;width:100px">7 Years</div>
<div class="gc" style="left:1183px;top:671px;width:100px">1990-07-28</div>
<div class="gc" style="left:1288px;top:671px;width:30px;text-align:left">user<span style="letter-spacing:-0.8px">...</span></div>
<div style="position:absolute;left:391px;top:699px;width:927px;height:27px;background:#ffffff"></div>
<div class="gc" style="left:397px;top:699px;width:194px;text-align:left">Business consulting Department</div>
<div style="position:absolute;left:611px;top:704px;width:14px;height:15px"><svg width="14" height="15" viewBox="0 0 14 15"><circle cx="7" cy="3.2" r="3.1" fill="#809db6"/><path d="M3.2 7.2 L5.2 7.2 L7 10.2 L8.8 7.2 L10.8 7.2 Q14 8.6 14 12.6 Q14 15 11.5 15 L2.5 15 Q0 15 0 12.6 Q0 8.6 3.2 7.2Z" fill="#809db6"/></svg></div>
<div class="gc" style="left:646px;top:699px;width:72px">24</div>
<div class="gc" style="left:718px;top:699px;width:100px">Nicholas</div>
<div class="gc" style="left:818px;top:699px;width:100px">Manager</div>
<div class="gc" style="left:918px;top:699px;width:65px">male</div>
<div class="gc" style="left:983px;top:699px;width:100px">2017-10-20</div>
<div class="gc" style="left:1083px;top:699px;width:100px">10 Years</div>
<div class="gc" style="left:1183px;top:699px;width:100px">1997-02-23</div>
<div class="gc" style="left:1288px;top:699px;width:30px;text-align:left">user<span style="letter-spacing:-0.8px">...</span></div>
<div style="position:absolute;left:391px;top:727px;width:927px;height:27px;background:#f7f8fa"></div>
<div class="gc" style="left:397px;top:727px;width:194px;text-align:left">Strategic Planning Department</div>
<div style="position:absolute;left:611px;top:732px;width:14px;height:15px"><svg width="14" height="15" viewBox="0 0 14 15"><circle cx="7" cy="3.2" r="3.1" fill="#809db6"/><path d="M3.2 7.2 L5.2 7.2 L7 10.2 L8.8 7.2 L10.8 7.2 Q14 8.6 14 12.6 Q14 15 11.5 15 L2.5 15 Q0 15 0 12.6 Q0 8.6 3.2 7.2Z" fill="#809db6"/></svg></div>
<div class="gc" style="left:646px;top:727px;width:72px">25</div>
<div class="gc" style="left:718px;top:727px;width:100px">Bella</div>
<div class="gc" style="left:818px;top:727px;width:100px">Executive</div>
<div class="gc" style="left:918px;top:727px;width:65px">male</div>
<div class="gc" style="left:983px;top:727px;width:100px">2018-01-01</div>
<div class="gc" style="left:1083px;top:727px;width:100px">9 Years</div>
<div class="gc" style="left:1183px;top:727px;width:100px">1987-05-14</div>
<div class="gc" style="left:1288px;top:727px;width:30px;text-align:left">user<span style="letter-spacing:-0.8px">...</span></div>
<div style="position:absolute;left:391px;top:755px;width:927px;height:27px;background:#ffffff"></div>
<div class="gc" style="left:397px;top:755px;width:194px;text-align:left">Business consulting Department</div>
<div style="position:absolute;left:611px;top:760px;width:14px;height:15px"><svg width="14" height="15" viewBox="0 0 14 15"><circle cx="7" cy="3.2" r="3.1" fill="#809db6"/><path d="M3.2 7.2 L5.2 7.2 L7 10.2 L8.8 7.2 L10.8 7.2 Q14 8.6 14 12.6 Q14 15 11.5 15 L2.5 15 Q0 15 0 12.6 Q0 8.6 3.2 7.2Z" fill="#809db6"/></svg></div>
<div class="gc" style="left:646px;top:755px;width:72px">26</div>
<div class="gc" style="left:718px;top:755px;width:100px">Hazel</div>
<div class="gc" style="left:818px;top:755px;width:100px">Executive</div>
<div class="gc" style="left:918px;top:755px;width:65px">male</div>
<div class="gc" style="left:983px;top:755px;width:100px">2024-07-13</div>
<div class="gc" style="left:1083px;top:755px;width:100px">3 Years</div>
<div class="gc" style="left:1183px;top:755px;width:100px">1985-01-27</div>
<div class="gc" style="left:1288px;top:755px;width:30px;text-align:left">user<span style="letter-spacing:-0.8px">...</span></div>
<div style="position:absolute;left:391px;top:783px;width:927px;height:27px;background:#f7f8fa"></div>
<div class="gc" style="left:397px;top:783px;width:194px;text-align:left">Business consulting Department</div>
<div style="position:absolute;left:611px;top:788px;width:14px;height:15px"><svg width="14" height="15" viewBox="0 0 14 15"><circle cx="7" cy="3.2" r="3.1" fill="#809db6"/><path d="M3.2 7.2 L5.2 7.2 L7 10.2 L8.8 7.2 L10.8 7.2 Q14 8.6 14 12.6 Q14 15 11.5 15 L2.5 15 Q0 15 0 12.6 Q0 8.6 3.2 7.2Z" fill="#809db6"/></svg></div>
<div class="gc" style="left:646px;top:783px;width:72px">27</div>
<div class="gc" style="left:718px;top:783px;width:100px">Robert</div>
<div class="gc" style="left:818px;top:783px;width:100px">Senior Associate</div>
<div class="gc" style="left:918px;top:783px;width:65px">female</div>
<div class="gc" style="left:983px;top:783px;width:100px">2020-10-30</div>
<div class="gc" style="left:1083px;top:783px;width:100px">7 Years</div>
<div class="gc" style="left:1183px;top:783px;width:100px">1982-08-31</div>
<div class="gc" style="left:1288px;top:783px;width:30px;text-align:left">user<span style="letter-spacing:-0.8px">...</span></div>
<div style="position:absolute;left:391px;top:811px;width:927px;height:27px;background:#ffffff"></div>
<div class="gc" style="left:397px;top:811px;width:194px;text-align:left">Strategic Planning Department</div>
<div style="position:absolute;left:611px;top:816px;width:14px;height:15px"><svg width="14" height="15" viewBox="0 0 14 15"><circle cx="7" cy="3.2" r="3.1" fill="#809db6"/><path d="M3.2 7.2 L5.2 7.2 L7 10.2 L8.8 7.2 L10.8 7.2 Q14 8.6 14 12.6 Q14 15 11.5 15 L2.5 15 Q0 15 0 12.6 Q0 8.6 3.2 7.2Z" fill="#809db6"/></svg></div>
<div class="gc" style="left:646px;top:811px;width:72px">28</div>
<div class="gc" style="left:718px;top:811px;width:100px">Adelaide</div>
<div class="gc" style="left:818px;top:811px;width:100px">Associate</div>
<div class="gc" style="left:918px;top:811px;width:65px">male</div>
<div class="gc" style="left:983px;top:811px;width:100px">2024-11-30</div>
<div class="gc" style="left:1083px;top:811px;width:100px">3 Years</div>
<div class="gc" style="left:1183px;top:811px;width:100px">1995-12-12</div>
<div class="gc" style="left:1288px;top:811px;width:30px;text-align:left">user<span style="letter-spacing:-0.8px">...</span></div>
<div style="position:absolute;left:391px;top:839px;width:927px;height:27px;background:#f7f8fa"></div>
<div class="gc" style="left:397px;top:839px;width:194px;text-align:left">Strategic Planning Department</div>
<div style="position:absolute;left:611px;top:844px;width:14px;height:15px"><svg width="14" height="15" viewBox="0 0 14 15"><circle cx="7" cy="3.2" r="3.1" fill="#809db6"/><path d="M3.2 7.2 L5.2 7.2 L7 10.2 L8.8 7.2 L10.8 7.2 Q14 8.6 14 12.6 Q14 15 11.5 15 L2.5 15 Q0 15 0 12.6 Q0 8.6 3.2 7.2Z" fill="#809db6"/></svg></div>
<div class="gc" style="left:646px;top:839px;width:72px">29</div>
<div class="gc" style="left:718px;top:839px;width:100px">Lily</div>
<div class="gc" style="left:818px;top:839px;width:100px">Director</div>
<div class="gc" style="left:918px;top:839px;width:65px">male</div>
<div class="gc" style="left:983px;top:839px;width:100px">2023-08-24</div>
<div class="gc" style="left:1083px;top:839px;width:100px">4 Years</div>
<div class="gc" style="left:1183px;top:839px;width:100px">1994-04-11</div>
<div class="gc" style="left:1288px;top:839px;width:30px;text-align:left">user<span style="letter-spacing:-0.8px">...</span></div>
<div style="position:absolute;left:391px;top:194px;width:927px;height:1px;background:#c8c8cc"></div>
<div style="position:absolute;left:391px;top:222px;width:927px;height:1px;background:#c8c8cc"></div>
<div style="position:absolute;left:391px;top:250px;width:927px;height:1px;background:#c8c8cc"></div>
<div style="position:absolute;left:391px;top:278px;width:927px;height:1px;background:#c8c8cc"></div>
<div style="position:absolute;left:391px;top:306px;width:927px;height:1px;background:#c8c8cc"></div>
<div style="position:absolute;left:391px;top:334px;width:927px;height:1px;background:#c8c8cc"></div>
<div style="position:absolute;left:391px;top:362px;width:927px;height:1px;background:#c8c8cc"></div>
<div style="position:absolute;left:391px;top:390px;width:927px;height:1px;background:#c8c8cc"></div>
<div style="position:absolute;left:391px;top:418px;width:927px;height:1px;background:#c8c8cc"></div>
<div style="position:absolute;left:391px;top:446px;width:927px;height:1px;background:#c8c8cc"></div>
<div style="position:absolute;left:391px;top:474px;width:927px;height:1px;background:#c8c8cc"></div>
<div style="position:absolute;left:391px;top:502px;width:927px;height:1px;background:#c8c8cc"></div>
<div style="position:absolute;left:391px;top:530px;width:927px;height:1px;background:#c8c8cc"></div>
<div style="position:absolute;left:391px;top:558px;width:927px;height:1px;background:#c8c8cc"></div>
<div style="position:absolute;left:391px;top:586px;width:927px;height:1px;background:#c8c8cc"></div>
<div style="position:absolute;left:391px;top:614px;width:927px;height:1px;background:#c8c8cc"></div>
<div style="position:absolute;left:391px;top:642px;width:927px;height:1px;background:#c8c8cc"></div>
<div style="position:absolute;left:391px;top:670px;width:927px;height:1px;background:#c8c8cc"></div>
<div style="position:absolute;left:391px;top:698px;width:927px;height:1px;background:#c8c8cc"></div>
<div style="position:absolute;left:391px;top:726px;width:927px;height:1px;background:#c8c8cc"></div>
<div style="position:absolute;left:391px;top:754px;width:927px;height:1px;background:#c8c8cc"></div>
<div style="position:absolute;left:391px;top:782px;width:927px;height:1px;background:#c8c8cc"></div>
<div style="position:absolute;left:391px;top:810px;width:927px;height:1px;background:#c8c8cc"></div>
<div style="position:absolute;left:391px;top:838px;width:927px;height:1px;background:#c8c8cc"></div>
<div style="position:absolute;left:391px;top:866px;width:927px;height:1px;background:#c8c8cc"></div>
<div style="position:absolute;left:591px;top:166px;width:1px;height:707px;background:#c8c8cc"></div>
<div style="position:absolute;left:646px;top:166px;width:1px;height:707px;background:#c8c8cc"></div>
<div style="position:absolute;left:718px;top:166px;width:1px;height:707px;background:#c8c8cc"></div>
<div style="position:absolute;left:818px;top:166px;width:1px;height:707px;background:#c8c8cc"></div>
<div style="position:absolute;left:918px;top:166px;width:1px;height:707px;background:#c8c8cc"></div>
<div style="position:absolute;left:983px;top:166px;width:1px;height:707px;background:#c8c8cc"></div>
<div style="position:absolute;left:1083px;top:166px;width:1px;height:707px;background:#c8c8cc"></div>
<div style="position:absolute;left:1183px;top:166px;width:1px;height:707px;background:#c8c8cc"></div>
<div style="position:absolute;left:1283px;top:166px;width:1px;height:707px;background:#c8c8cc"></div>
<div style="position:absolute;left:1318px;top:166px;width:1px;height:707px;background:#c8c8cc"></div>

<!-- partial row bottom + scrollbars -->
<div class="a" style="left:391px;top:873px;width:944px;height:1px;background:#c8c8cc"></div>
<div class="a" style="left:391px;top:874px;width:944px;height:16px;background:#f9f9fb"></div>
<div class="a" style="left:391px;top:890px;width:944px;height:1px;background:#c8c8cc"></div>
<div class="a" style="left:1319px;top:166px;width:16px;height:707px;background:#f8f8fa"></div>
<svg class="a" style="left:1322px;top:170px" width="12" height="9"><path d="M1 8 L5.5 1 L10 8z" fill="#8a8a8a"/></svg>
<div class="a" style="left:1323px;top:184px;width:9px;height:104px;border-radius:5px;background:#8a8a8a"></div>
<svg class="a" style="left:1322px;top:863px" width="12" height="9"><path d="M1 1 L5.5 8 L10 1z" fill="#8a8a8a"/></svg>
<svg class="a" style="left:394px;top:877px" width="10" height="11"><path d="M9 1 L2 5.5 L9 10z" fill="#8a8a8a"/></svg>
<div class="a" style="left:409px;top:878px;width:622px;height:9px;border-radius:5px;background:#8a8a8a"></div>
<svg class="a" style="left:1307px;top:877px" width="10" height="11"><path d="M1 1 L8 5.5 L1 10z" fill="#8a8a8a"/></svg>

<!-- design guides -->
<svg class="a" style="left:0;top:0;overflow:visible" width="1671" height="964">
 <g fill="none" stroke-width="1" stroke-dasharray="2.5 3.5">
  <path d="M14 146.5 H397" stroke="#4a4af0"/>
  <path d="M604.5 58 V131" stroke="#4a4af0"/>
  <path d="M397.5 162.5 H811 M397.5 163 V171 M811.5 157 V172" stroke="#4a4af0"/>
  <path d="M816.5 134 V157 M816 134.5 H826 M816 157.5 H826" stroke="#4a4af0"/>
  <rect x="397.5" y="134.5" width="413" height="22" stroke="#e8202a"/>
 </g>
</svg>
<div class="a" style="left:19px;top:135px;font-size:10px;color:#3535f5;line-height:12px">384</div>
<div class="a" style="left:596px;top:165px;font-size:10px;color:#3535f5;line-height:10px">414</div>
<div class="a" style="left:617px;top:65px;font-size:9px;color:#3535f5;line-height:9px;transform:rotate(90deg);transform-origin:left top">79</div>
<div class="a" style="left:829px;top:139px;font-size:10px;color:#3535f5;line-height:10px;transform:rotate(90deg);transform-origin:left top">23</div>

<!-- bottom tabs -->
<div class="a" style="left:12px;top:931px;width:73px;height:30px;border:1px solid #c8c8c8;border-top:1px solid #c8c8c8;background:#fff;font-size:13px;font-weight:bold;color:#222;text-align:center;line-height:29px">MAIN</div>
<div class="a" style="left:84px;top:931px;width:63px;height:30px;border:1px solid #c8c8c8;background:#f8f9fa;font-size:13px;color:#555;text-align:center;line-height:29px;letter-spacing:-0.6px">LOG</div>

<!-- right panel -->
<div class="a" style="left:0;top:0;width:1671px;height:964px;border-left:2px solid #bdbdbd;border-right:1px solid #c4c4c4;border-bottom:2px solid #bdbdbd;border-bottom-left-radius:5px;border-bottom-right-radius:4px"></div>
<div class="a" style="left:1385px;top:54px;width:280px;height:908px;border:1px solid #a8a8a8;border-bottom:none;background:#f8f9fa"></div>
<svg class="a" style="left:1392px;top:58px" width="30" height="14">
 <path d="M4.2 2.4 h4.6 v4.4 l1.8 1.9 h-8.2 l1.8 -1.9z" fill="#777"/>
 <path d="M6.5 8.5 v3.2" stroke="#777" stroke-width="1"/>
 <path d="M18.6 3.4 l3.2 3.4 l-3.2 3.4 M22.4 3.4 l3.2 3.4 l-3.2 3.4" fill="none" stroke="#777" stroke-width="1.7"/>
</svg>
<div class="a" style="left:1386px;top:74px;width:279px;height:329px;border-right:1px solid #b0b0b0;border-bottom:1px solid #c0c0c0;background:#f8f9fa"></div>
<div class="a" style="left:1386px;top:74px;width:278px;height:31px;background:#d9d9dd;border-bottom:1px solid #e8e8ea"></div>
<div class="a" style="left:1397px;top:83px;font-size:12px;font-weight:bold;color:#333;line-height:14px">[MAIN]'s Controls</div>
<svg class="a" style="left:1641px;top:84px" width="14" height="10"><path d="M1.5 7.5 l5.5 -5.5 l5.5 5.5" fill="none" stroke="#777" stroke-width="1.6"/></svg>
<div class="a" style="left:1392px;top:109px;width:264px;height:20px;border:1px solid #999;border-bottom:1px solid #aaa;background:#fff"></div>
<div class="a" style="left:1392px;top:128px;width:264px;height:250px;border:1px solid #999;border-top:none;background:#fff;overflow:hidden">
</div>
<div class="a" style="left:1393px;top:129px;width:262px;height:248px;overflow:hidden">
<div style="position:absolute;left:-1393px;top:-129px;width:1671px;height:964px">
<div style="position:absolute;left:1401px;top:134.9px;width:14px;height:10px"><svg width="14" height="10" viewBox="0 0 14 10"><ellipse cx="7" cy="5" rx="6.2" ry="4.2" fill="#777"/><circle cx="7" cy="5" r="2.5" fill="#fff"/><circle cx="7" cy="5" r="1.4" fill="#777"/></svg></div>
<div class="ct" style="top:132px;font-weight:normal;color:#444;letter-spacing:0px">DataGrid (DataGrid)</div>
<div style="position:absolute;left:1393px;top:148px;width:247px;height:18px;background:#e3ecfa"></div>
<div style="position:absolute;left:1401px;top:152.9px;width:14px;height:10px"><svg width="14" height="10" viewBox="0 0 14 10"><ellipse cx="7" cy="5" rx="6.2" ry="4.2" fill="#777"/><circle cx="7" cy="5" r="2.5" fill="#fff"/><circle cx="7" cy="5" r="1.4" fill="#777"/></svg></div>
<div class="ct" style="top:150px;font-weight:bold;color:#444;letter-spacing:-0.16px">Label2 (Label)</div>
<div style="position:absolute;left:1401px;top:170.9px;width:14px;height:10px"><svg width="14" height="10" viewBox="0 0 14 10"><ellipse cx="7" cy="5" rx="6.2" ry="4.2" fill="#777"/><circle cx="7" cy="5" r="2.5" fill="#fff"/><circle cx="7" cy="5" r="1.4" fill="#777"/></svg></div>
<div class="ct" style="top:168px;font-weight:normal;color:#444;letter-spacing:0px">Group (Group)</div>
<div style="position:absolute;left:1401px;top:188.9px;width:14px;height:10px"><svg width="14" height="10" viewBox="0 0 14 10"><ellipse cx="7" cy="5" rx="6.2" ry="4.2" fill="#777"/><circle cx="7" cy="5" r="2.5" fill="#fff"/><circle cx="7" cy="5" r="1.4" fill="#777"/></svg></div>
<div class="ct" style="top:186px;font-weight:normal;color:#444;letter-spacing:-0.13px">VS_DIVISION (MultiComboBox)</div>
<div style="position:absolute;left:1401px;top:206.9px;width:14px;height:10px"><svg width="14" height="10" viewBox="0 0 14 10"><ellipse cx="7" cy="5" rx="6.2" ry="4.2" fill="#777"/><circle cx="7" cy="5" r="2.5" fill="#fff"/><circle cx="7" cy="5" r="1.4" fill="#777"/></svg></div>
<div class="ct" style="top:204px;font-weight:normal;color:#444;letter-spacing:-0.42px">VS_FROM_DATE (CalendarFromTo)</div>
<div style="position:absolute;left:1401px;top:224.9px;width:14px;height:10px"><svg width="14" height="10" viewBox="0 0 14 10"><ellipse cx="7" cy="5" rx="6.2" ry="4.2" fill="#777"/><circle cx="7" cy="5" r="2.5" fill="#fff"/><circle cx="7" cy="5" r="1.4" fill="#777"/></svg></div>
<div class="ct" style="top:222px;font-weight:normal;color:#444;letter-spacing:-0.32px">BTN_BG (Button)</div>
<div style="position:absolute;left:1401px;top:242.9px;width:14px;height:10px"><svg width="14" height="10" viewBox="0 0 14 10"><ellipse cx="7" cy="5" rx="6.2" ry="4.2" fill="#777"/><circle cx="7" cy="5" r="2.5" fill="#fff"/><circle cx="7" cy="5" r="1.4" fill="#777"/></svg></div>
<div class="ct" style="top:240px;font-weight:normal;color:#444;letter-spacing:-0.43px">LB_GNB (Label)</div>
<div style="position:absolute;left:1401px;top:260.9px;width:14px;height:10px"><svg width="14" height="10" viewBox="0 0 14 10"><ellipse cx="7" cy="5" rx="6.2" ry="4.2" fill="#777"/><circle cx="7" cy="5" r="2.5" fill="#fff"/><circle cx="7" cy="5" r="1.4" fill="#777"/></svg></div>
<div class="ct" style="top:258px;font-weight:normal;color:#444;letter-spacing:-0.27px">LB_Title (Label)</div>
<div style="position:absolute;left:1401px;top:278.9px;width:14px;height:10px"><svg width="14" height="10" viewBox="0 0 14 10"><ellipse cx="7" cy="5" rx="6.2" ry="4.2" fill="#777"/><circle cx="7" cy="5" r="2.5" fill="#fff"/><circle cx="7" cy="5" r="1.4" fill="#777"/></svg></div>
<div class="ct" style="top:276px;font-weight:normal;color:#444;letter-spacing:-0.28px">LB_Period (Label)</div>
<div style="position:absolute;left:1401px;top:296.9px;width:14px;height:10px"><svg width="14" height="10" viewBox="0 0 14 10"><ellipse cx="7" cy="5" rx="6.2" ry="4.2" fill="#777"/><circle cx="7" cy="5" r="2.5" fill="#fff"/><circle cx="7" cy="5" r="1.4" fill="#777"/></svg></div>
<div class="ct" style="top:294px;font-weight:normal;color:#444;letter-spacing:-0.2px">LB_Division (Label)</div>
<div style="position:absolute;left:1401px;top:314.9px;width:14px;height:10px"><svg width="14" height="10" viewBox="0 0 14 10"><ellipse cx="7" cy="5" rx="6.2" ry="4.2" fill="#777"/><circle cx="7" cy="5" r="2.5" fill="#fff"/><circle cx="7" cy="5" r="1.4" fill="#777"/></svg></div>
<div class="ct" style="top:312px;font-weight:normal;color:#444;letter-spacing:0px">btnRefresh (Button)</div>
<div style="position:absolute;left:1401px;top:332.9px;width:14px;height:10px"><svg width="14" height="10" viewBox="0 0 14 10"><ellipse cx="7" cy="5" rx="6.2" ry="4.2" fill="#777"/><circle cx="7" cy="5" r="2.5" fill="#fff"/><circle cx="7" cy="5" r="1.4" fill="#777"/></svg></div>
<div class="ct" style="top:330px;font-weight:normal;color:#444;letter-spacing:-0.28px">BTN_LOG (Button)</div>
<div style="position:absolute;left:1401px;top:350.9px;width:14px;height:10px"><svg width="14" height="10" viewBox="0 0 14 10"><ellipse cx="7" cy="5" rx="6.2" ry="4.2" fill="#777"/><circle cx="7" cy="5" r="2.5" fill="#fff"/><circle cx="7" cy="5" r="1.4" fill="#777"/></svg></div>
<div class="ct" style="top:348px;font-weight:normal;color:#444;letter-spacing:-0.13px">Label14 (Label)</div>
<div style="position:absolute;left:1401px;top:368.9px;width:14px;height:10px"><svg width="14" height="10" viewBox="0 0 14 10"><ellipse cx="7" cy="5" rx="6.2" ry="4.2" fill="#c8c8c8"/><circle cx="7" cy="5" r="2.5" fill="#fff"/><circle cx="7" cy="5" r="1.4" fill="#c8c8c8"/><path d="M2 9.5 L12 0.5" stroke="#c8c8c8" stroke-width="1.3"/></svg></div>
<div class="ct" style="top:366px;font-weight:normal;color:#c4c4c8;letter-spacing:-0.3px">BT_GUIDE (Button)</div>
</div></div>
<svg class="a" style="left:1641px;top:131px" width="14" height="10"><path d="M2 8 L7 2 L12 8z" fill="#888"/></svg>
<div class="a" style="left:1643px;top:146px;width:9px;height:165px;border-radius:5px;background:#8a8a8a"></div>
<svg class="a" style="left:1641px;top:364px" width="14" height="10"><path d="M2 2 L7 8 L12 2z" fill="#888"/></svg>
<div class="a" style="left:1641px;top:382px;width:15px;height:15px;border:1px solid #c8c8c8;border-radius:2px;background:#eeeef0"></div>
<svg class="a" style="left:1642px;top:383px" width="13" height="13"><path d="M3 3 L10 10 M10 3 L3 10" stroke="#555" stroke-width="1.3"/></svg>


<!-- properties -->
<div class="a" style="left:1386px;top:403px;width:263px;height:25px;background:#e5e5ea;border-bottom:1px solid #c8c8cc"></div>
<div class="lbl" style="top:408px;font-size:13px;font-weight:bold">Data</div>
<svg class="a" style="left:1626px;top:408px" width="14" height="10"><path d="M1.5 7.5 l5.5 -5.5 l5.5 5.5" fill="none" stroke="#777" stroke-width="1.6"/></svg>
<div class="lbl" style="top:437px">Binding</div>
<div class="fld" style="top:431px;width:127px;height:24px"></div>
<svg class="a" style="left:1620px;top:439px" width="12" height="8"><path d="M2 2 l4 4 l4 -4" fill="none" stroke="#333" stroke-width="1.5"/></svg>

<div class="a" style="left:1386px;top:460px;width:263px;height:29px;background:#e5e5ea;border-bottom:1px solid #c8c8cc"></div>
<div class="lbl" style="top:468px;font-size:13px;font-weight:bold">Style</div>
<svg class="a" style="left:1626px;top:469px" width="14" height="10"><path d="M1.5 7.5 l5.5 -5.5 l5.5 5.5" fill="none" stroke="#777" stroke-width="1.6"/></svg>

<div class="lbl" style="top:503px">Type</div>
<div class="a" style="left:1396px;top:527px;width:12px;height:12px;border:1px solid #777;border-radius:50%;background:#fff"></div>
<div class="lbl" style="left:1415px;top:527px;color:#444">Skin</div>
<div class="a" style="left:1476px;top:527px;width:12px;height:12px;border:1px solid #777;border-radius:50%;background:#fff"></div>
<div class="lbl" style="left:1495px;top:527px;color:#444">BoxStyle</div>
<div class="a" style="left:1578px;top:527px;width:12px;height:12px;border:1px solid #1a73e8;border-radius:50%;background:#fff"></div>
<div class="a" style="left:1581px;top:530px;width:6px;height:6px;border-radius:50%;background:#1a73e8"></div>
<div class="lbl" style="left:1597px;top:527px;color:#444">Custom</div>

<div class="lbl" style="top:556px">BoxStyle</div>
<div class="fld" style="top:550px;height:24px"></div>
<div class="a" style="left:1515px;top:552px;width:101px;height:20px;background-color:#fff;background-image:linear-gradient(45deg,#ccc 25%,transparent 25%,transparent 75%,#ccc 75%),linear-gradient(45deg,#ccc 25%,transparent 25%,transparent 75%,#ccc 75%);background-size:12px 12px;background-position:6px 0,0 6px"></div>
<div class="sq" style="left:1619px;top:553px;width:18px;height:18px"></div>
<svg class="a" style="left:1619px;top:553px" width="18" height="18" fill="#333"><rect x="4" y="8" width="2" height="2"/><rect x="8" y="8" width="2" height="2"/><rect x="12" y="8" width="2" height="2"/></svg>

<div class="lbl" style="top:582px">Background</div>
<div class="fld" style="top:577px;height:23px"></div>
<div class="a" style="left:1515px;top:580px;width:100px;height:16px;background:#000"></div>
<div class="sq" style="left:1619px;top:580px;width:18px;height:17px"></div>
<svg class="a" style="left:1623px;top:585px" width="10" height="7"><path d="M1.5 1.5 l3.5 3.5 l3.5 -3.5" fill="none" stroke="#333" stroke-width="1.5"/></svg>

<div class="lbl" style="top:608px">Margin</div>
<div class="fld" style="top:602px;height:24px"></div>
<div class="lbl" style="left:1518px;top:608px;font-size:12px">0,0,0,0</div>

<div class="a" style="left:1386px;top:635px;width:263px;height:1px;background:#dcdcdf"></div>
<div class="lbl" style="top:643px;font-weight:bold">Border</div>
<div class="lbl" style="top:669px">Color</div>
<div class="fld" style="top:663px;height:24px"></div>
<div class="a" style="left:1515px;top:667px;width:100px;height:16px;background:#000"></div>
<div class="sq" style="left:1619px;top:666px;width:18px;height:18px"></div>
<svg class="a" style="left:1623px;top:672px" width="10" height="7"><path d="M1.5 1.5 l3.5 3.5 l3.5 -3.5" fill="none" stroke="#333" stroke-width="1.5"/></svg>
<div class="lbl" style="top:695px">Line Type</div>
<div class="fld" style="top:689px;height:24px"></div>
<div class="lbl" style="left:1518px;top:695px">none</div>
<svg class="a" style="left:1621px;top:697px" width="10" height="7"><path d="M1.5 1.5 l3.5 3.5 l3.5 -3.5" fill="none" stroke="#333" stroke-width="1.5"/></svg>
<div class="lbl" style="top:721px">Thickness</div>
<div class="fld" style="top:716px;height:23px"></div>
<div class="lbl" style="left:1518px;top:721px">1,1,1,1</div>
<div class="lbl" style="top:747px">Corner Radius</div>
<div class="fld" style="top:741px;height:24px"></div>
<div class="lbl" style="left:1518px;top:747px">0,0,0,0</div>

<div class="a" style="left:1386px;top:774px;width:263px;height:1px;background:#dcdcdf"></div>
<div class="lbl" style="top:783px;font-weight:bold">Font</div>
<div class="lbl" style="top:808px">Color</div>
<div class="fld" style="top:802px;height:24px"></div>
<div class="a" style="left:1515px;top:806px;width:100px;height:16px;background:#555"></div>
<div class="sq" style="left:1619px;top:805px;width:18px;height:18px"></div>
<svg class="a" style="left:1623px;top:811px" width="10" height="7"><path d="M1.5 1.5 l3.5 3.5 l3.5 -3.5" fill="none" stroke="#333" stroke-width="1.5"/></svg>
<div class="lbl" style="top:834px">Family</div>
<div class="fld" style="top:829px;height:23px"></div>
<div class="lbl" style="left:1518px;top:834px">default</div>
<svg class="a" style="left:1621px;top:836px" width="10" height="7"><path d="M1.5 1.5 l3.5 3.5 l3.5 -3.5" fill="none" stroke="#333" stroke-width="1.5"/></svg>
<div class="lbl" style="top:860px">Size</div>
<div class="fld" style="top:854px;height:24px"></div>
<div class="lbl" style="left:1518px;top:860px">13</div>
<svg class="a" style="left:1622px;top:858px" width="10" height="18"><path d="M1.5 5.5 l3.5 -3.5 l3.5 3.5 M1.5 11.5 l3.5 3.5 l3.5 -3.5" fill="none" stroke="#333" stroke-width="1.3"/></svg>
<div class="lbl" style="top:886px">Style</div>
<div class="sq" style="left:1512px;top:880px"></div>
<div class="sq" style="left:1540px;top:880px"></div>
<div class="sq" style="left:1568px;top:880px"></div>
<div class="a" style="left:1512px;top:884px;width:24px;text-align:center;font-size:16px;font-weight:bold;color:#222;line-height:18px">A</div>
<div class="a" style="left:1540px;top:884px;width:24px;text-align:center;font-size:16px;font-style:italic;color:#222;line-height:18px">A</div>
<div class="a" style="left:1568px;top:883px;width:24px;text-align:center;font-size:15px;color:#222;line-height:18px">A</div>
<div class="a" style="left:1573px;top:897px;width:14px;height:1px;background:#444"></div>
<div class="lbl" style="top:912px">H Align</div>
<div class="sq" style="left:1512px;top:906px;background:#e8eefd;border-color:#7d9cf2"></div>
<div class="sq" style="left:1540px;top:906px"></div>
<div class="sq" style="left:1568px;top:906px"></div>
<svg class="a" style="left:1512px;top:906px" width="84" height="24" fill="#222">
 <rect x="5" y="7" width="14" height="1"/><rect x="5" y="9" width="10" height="1"/><rect x="5" y="11" width="14" height="1"/><rect x="5" y="13" width="10" height="1"/><rect x="5" y="15" width="14" height="1"/><rect x="5" y="17" width="10" height="1"/>
 <rect x="33" y="7" width="14" height="1"/><rect x="35" y="9" width="10" height="1"/><rect x="33" y="11" width="14" height="1"/><rect x="35" y="13" width="10" height="1"/><rect x="33" y="15" width="14" height="1"/><rect x="35" y="17" width="10" height="1"/>
 <rect x="61" y="7" width="14" height="1"/><rect x="65" y="9" width="10" height="1"/><rect x="61" y="11" width="14" height="1"/><rect x="65" y="13" width="10" height="1"/><rect x="61" y="15" width="14" height="1"/><rect x="65" y="17" width="10" height="1"/>
</svg>
<div class="lbl" style="top:938px">V Align</div>
<div class="sq" style="left:1512px;top:932px"></div>
<div class="sq" style="left:1540px;top:932px;background:#e8eefd;border-color:#7d9cf2"></div>
<div class="sq" style="left:1568px;top:932px"></div>
<svg class="a" style="left:1512px;top:932px" width="84" height="24" fill="#222">
 <rect x="5" y="6" width="14" height="1"/><rect x="7" y="8" width="10" height="1"/><rect x="5" y="10" width="14" height="1"/>
 <rect x="33" y="10" width="14" height="1"/><rect x="35" y="12" width="10" height="1"/><rect x="33" y="14" width="14" height="1"/>
 <rect x="61" y="13" width="14" height="1"/><rect x="63" y="15" width="10" height="1"/><rect x="61" y="17" width="14" height="1"/>
</svg>
<!-- props scrollbar -->
<div class="a" style="left:1649px;top:403px;width:16px;height:559px;background:#f8f9fa"></div>
<div class="a" style="left:1652px;top:403px;width:9px;height:309px;background:#8a8a8a;border-radius:0 0 5px 5px"></div>
<svg class="a" style="left:1650px;top:950px" width="14" height="10"><path d="M2 2 L7 9 L12 2z" fill="#888"/></svg>
<div class="a" style="left:1664px;top:403px;width:1px;height:559px;background:#b0b0b0"></div>
<!-- red dashed selection -->
<svg class="a" style="left:1384px;top:70px" width="284" height="340">
 <rect x="2" y="2" width="280.5" height="336" fill="none" stroke="#ee0a14" stroke-width="2" stroke-dasharray="4.5 5.5" stroke-dashoffset="0.8" stroke-linecap="round"/>
</svg>
</body></html>
